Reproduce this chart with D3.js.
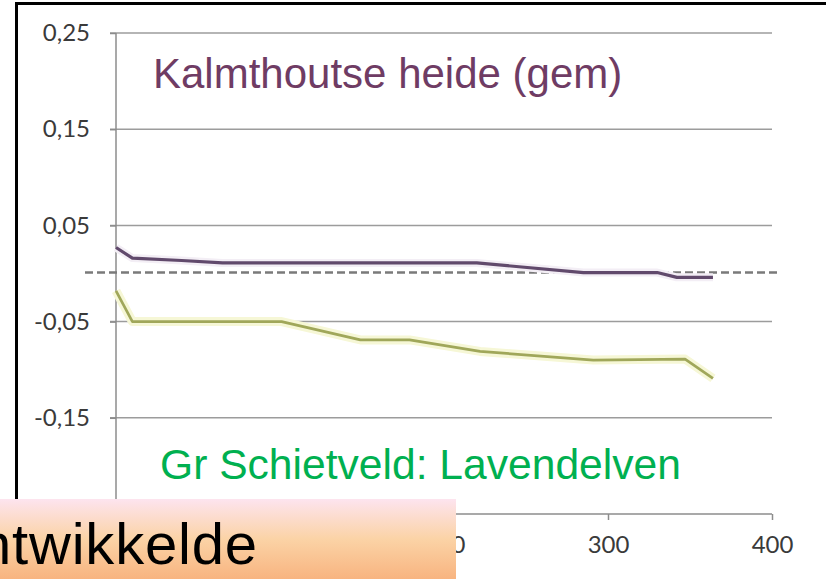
<!DOCTYPE html>
<html>
<head>
<meta charset="utf-8">
<script src="https://cdn.jsdelivr.net/npm/d3@7"></script>
<style>
  html, body { margin: 0; padding: 0; background: #ffffff; }
  svg { display: block; }
</style>
</head>
<body>
<svg id="chart" width="826" height="579"></svg>
<script>
// ---- data ----
const kalmX = [0, 10, 40, 65, 220, 285, 330, 342, 364];
const kalmY = [0.027, 0.016, 0.0135, 0.011, 0.011, 0.001, 0.001, -0.004, -0.004];
const schietX = [0, 10, 101, 149, 179, 222, 291, 347, 364];
const schietY = [-0.018, -0.05, -0.05, -0.069, -0.069, -0.081, -0.09, -0.089, -0.109];
const yTicks = [-0.15, -0.05, 0.05, 0.15, 0.25];
const xTicks = [0, 100, 200, 300, 400];
const labelKalm = "Kalmthoutse heide (gem)";
const labelSchiet = "Gr Schietveld: Lavendelven";
const bannerText = "ntwikkelde";

const svg = d3.select("#chart");
const x = d3.scaleLinear().domain([0, 400]).range([116, 772]);
const y = d3.scaleLinear().domain([-0.25, 0.25]).range([514, 33]);
const fmt = v => d3.format(".2f")(v).replace(".", ",").replace("−", "-");

// gradient for banner
const defs = svg.append("defs");
const grad = defs.append("linearGradient").attr("id", "bannerGrad")
  .attr("x1", 0).attr("y1", 0).attr("x2", 0).attr("y2", 1);
grad.append("stop").attr("offset", "0%").attr("stop-color", "#fde4ef");
grad.append("stop").attr("offset", "50%").attr("stop-color", "#fbd3a6");
grad.append("stop").attr("offset", "100%").attr("stop-color", "#f8b480");

// gridlines
svg.append("g").selectAll("line").data(yTicks).join("line")
  .attr("x1", 110).attr("x2", x(400))
  .attr("y1", d => y(d)).attr("y2", d => y(d))
  .attr("stroke", "#9c9c9c").attr("stroke-width", 1.5);

// y axis
const yAxis = svg.append("g").attr("transform", `translate(${x(0)},0)`)
  .call(d3.axisLeft(y).tickValues(yTicks).tickSize(6).tickPadding(20).tickFormat(fmt));
yAxis.select(".domain").attr("stroke", "#8c8c8c").attr("stroke-width", 1.5)
  .attr("d", `M0,${y(0.25)}V${y(-0.25)}`);
yAxis.selectAll(".tick line").attr("stroke", "#8c8c8c").attr("stroke-width", 1.5);
yAxis.selectAll(".tick text").attr("font-family", "Lato, 'Open Sans', sans-serif")
  .attr("font-size", 24).attr("fill", "#3a3a3a");

// x axis
const xAxis = svg.append("g").attr("transform", `translate(0,${y(-0.25)})`)
  .call(d3.axisBottom(x).tickValues(xTicks).tickSize(6).tickPadding(16).tickFormat(d3.format("d")));
xAxis.select(".domain").attr("stroke", "#8c8c8c").attr("stroke-width", 1.5)
  .attr("d", `M${x(0)},0H${x(400)}`);
xAxis.selectAll(".tick line").attr("stroke", "#8c8c8c").attr("stroke-width", 1.5);
xAxis.selectAll(".tick text").attr("font-family", "Lato, 'Open Sans', sans-serif")
  .attr("font-size", 24).attr("fill", "#3a3a3a");

// zero dashed line
svg.append("line")
  .attr("x1", 85).attr("x2", 780).attr("y1", y(0.001)).attr("y2", y(0.001))
  .attr("stroke", "#7a7a7a").attr("stroke-width", 2.5).attr("stroke-dasharray", "8,4");

// lines
const line = d3.line().x(d => x(d[0])).y(d => y(d[1]));
const kalm = kalmX.map((v, i) => [v, kalmY[i]]);
const schiet = schietX.map((v, i) => [v, schietY[i]]);

svg.append("path").attr("d", line(schiet)).attr("fill", "none")
  .attr("stroke", "#f6f7d6").attr("stroke-width", 9).attr("stroke-linejoin", "round");
svg.append("path").attr("d", line(schiet)).attr("fill", "none")
  .attr("stroke", "#a0a75a").attr("stroke-width", 2.7).attr("stroke-linejoin", "round");
svg.append("path").attr("d", line(kalm)).attr("fill", "none")
  .attr("stroke", "#f3eef5").attr("stroke-width", 8).attr("stroke-linejoin", "round");
svg.append("path").attr("d", line(kalm)).attr("fill", "none")
  .attr("stroke", "#614a6c").attr("stroke-width", 3.2).attr("stroke-linejoin", "round");

// annotations
svg.append("text").attr("x", 153).attr("y", 88)
  .attr("font-family", "'Liberation Sans', Arial, sans-serif").attr("font-size", 42)
  .attr("fill", "#6f3c64").text(labelKalm);
svg.append("text").attr("x", 160).attr("y", 479)
  .attr("font-family", "'Liberation Sans', Arial, sans-serif").attr("font-size", 42.6)
  .attr("fill", "#00b050").text(labelSchiet);

// frame
svg.append("line").attr("x1", 15).attr("x2", 826).attr("y1", 3.5).attr("y2", 3.5)
  .attr("stroke", "#000").attr("stroke-width", 3);
svg.append("line").attr("x1", 16.5).attr("x2", 16.5).attr("y1", 2).attr("y2", 499)
  .attr("stroke", "#000").attr("stroke-width", 3);

// banner
svg.append("rect").attr("x", 0).attr("y", 499).attr("width", 456).attr("height", 80)
  .attr("fill", "url(#bannerGrad)");
svg.append("text").attr("x", -21).attr("y", 564)
  .attr("font-family", "'Liberation Sans', Arial, sans-serif").attr("font-size", 58)
  .attr("letter-spacing", 0.8).attr("fill", "#000").text(bannerText);
</script>
</body>
</html>
